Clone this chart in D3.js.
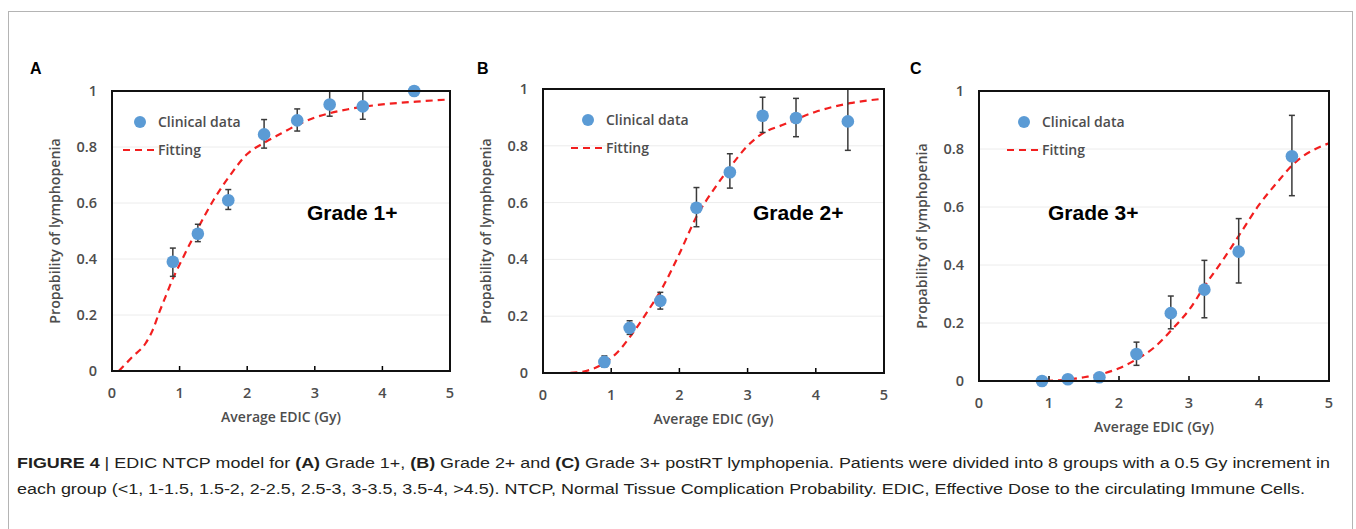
<!DOCTYPE html>
<html lang="en">
  <head>
    <meta charset="utf-8">
    <title>EDIC NTCP model</title>
    <script src="https://d3js.org/d3.v7.min.js"></script>
    <style>
      body { margin: 0; background: #fff; }
      text { font-family: "Open Sans", "Liberation Sans", sans-serif; }
    </style>
  </head>
  <body>
    <div id="figure"></div>
    <script type="text/javascript">
      // clinical groups (average EDIC per group, Gy)
      const doses = [0.9, 1.27, 1.72, 2.25, 2.74, 3.22, 3.71, 4.47];

      const probA = [0.39, 0.49, 0.61, 0.845, 0.895, 0.952, 0.945, 1.0];
      const lowA  = [0.338, 0.462, 0.577, 0.796, 0.857, 0.91, 0.899, 1.0];
      const highA = [0.439, 0.524, 0.648, 0.898, 0.936, 1.0, 1.0, 1.0];

      const probB = [0.039, 0.159, 0.254, 0.582, 0.707, 0.906, 0.898, 0.886];
      const lowB  = [0.021, 0.136, 0.225, 0.515, 0.651, 0.847, 0.832, 0.784];
      const highB = [0.06, 0.184, 0.284, 0.653, 0.772, 0.971, 0.967, 1.0];

      const probC = [0.0, 0.006, 0.013, 0.093, 0.234, 0.315, 0.446, 0.775];
      const lowC  = [0.0, 0.006, 0.013, 0.054, 0.18, 0.218, 0.338, 0.639];
      const highC = [0.0, 0.006, 0.013, 0.134, 0.293, 0.416, 0.56, 0.916];

      // fitted NTCP curves
      const fitDoseA = [0.1, 0.3, 0.5, 0.6, 0.7, 0.8, 0.9, 1.0, 1.25, 1.5, 1.75, 2.0, 2.25, 2.5, 2.75, 3.0, 3.5, 4.0, 4.5, 5.0];
      const fitProbA = [0.0, 0.05, 0.1, 0.145, 0.21, 0.27, 0.33, 0.38, 0.5, 0.61, 0.7, 0.775, 0.815, 0.848, 0.88, 0.905, 0.935, 0.952, 0.962, 0.97];

      const fitDoseB = [0.05, 0.3, 0.5, 0.7, 0.9, 1.1, 1.3, 1.5, 1.75, 2.0, 2.25, 2.5, 2.75, 3.0, 3.25, 3.5, 4.0, 4.5, 5.0];
      const fitProbB = [0.0, 0.0, 0.002, 0.012, 0.035, 0.075, 0.135, 0.205, 0.3, 0.42, 0.55, 0.645, 0.727, 0.8, 0.848, 0.872, 0.92, 0.95, 0.966];

      const fitDoseC = [0.1, 0.8, 1.2, 1.5, 1.75, 2.0, 2.25, 2.5, 2.75, 3.0, 3.25, 3.5, 3.75, 4.0, 4.25, 4.5, 5.0];
      const fitProbC = [0.0, 0.0, 0.003, 0.013, 0.024, 0.044, 0.075, 0.115, 0.176, 0.245, 0.337, 0.423, 0.515, 0.607, 0.682, 0.75, 0.82];

      const xTicks = [0, 1, 2, 3, 4, 5];
      const yTicks = [0, 0.2, 0.4, 0.6, 0.8, 1];
      const yTickLabels = ["0", "0.2", "0.4", "0.6", "0.8", "1"];

      const panels = [
          {label: "A", grade: "Grade 1+", prob: probA, low: lowA, high: highA, fitX: fitDoseA, fitY: fitProbA,
           left: 112, right: 450, top: 91, bottom: 371, gradeX: 307, legendShift: 11},
          {label: "B", grade: "Grade 2+", prob: probB, low: lowB, high: highB, fitX: fitDoseB, fitY: fitProbB,
           left: 543, right: 884, top: 89, bottom: 373, gradeX: 753, legendShift: 28},
          {label: "C", grade: "Grade 3+", prob: probC, low: lowC, high: highC, fitX: fitDoseC, fitY: fitProbC,
           left: 979, right: 1329, top: 91, bottom: 381, gradeX: 1048, legendShift: 28}
      ];
      const labelX = [30, 477, 910];

      const svgWidth = 1356, svgHeight = 529;
      const svg = d3.select("#figure")
          .append("svg")
          .attr("width", svgWidth)
          .attr("height", svgHeight);

      // outer figure frame
      svg.append("rect")
          .attr("x", 8.5)
          .attr("y", 11.5)
          .attr("width", 1344)
          .attr("height", 540)
          .attr("fill", "none")
          .attr("stroke", "#b4b4b4")
          .attr("stroke-width", 1);

      const axisGray = "#4d4d4d";

      panels.forEach(function(p, k) {
          let x = d3.scaleLinear().domain([0, 5]).range([p.left, p.right]);
          let y = d3.scaleLinear().domain([0, 1]).range([p.bottom, p.top]);
          let g = svg.append("g").attr("class", "panel" + p.label);

          // panel letter
          g.append("text")
              .attr("x", labelX[k])
              .attr("y", 68)
              .attr("dy", "0.35em")
              .style("font-family", "Liberation Sans, Arial, sans-serif")
              .style("font-weight", "bold")
              .style("font-size", "16px")
              .attr("fill", "#000")
              .text(p.label);

          // gridlines
          g.selectAll("line.grid")
              .data(yTicks.slice(1, 5))
              .join("line")
              .attr("class", "grid")
              .attr("x1", p.left)
              .attr("x2", p.right)
              .attr("y1", d => y(d))
              .attr("y2", d => y(d))
              .attr("stroke", "#ececec")
              .attr("stroke-width", 1);

          // x tick marks (inside, bottom)
          g.selectAll("line.xtick")
              .data(xTicks.slice(1, 5))
              .join("line")
              .attr("class", "xtick")
              .attr("x1", d => x(d))
              .attr("x2", d => x(d))
              .attr("y1", p.bottom)
              .attr("y2", p.bottom - 5)
              .attr("stroke", "#000")
              .attr("stroke-width", 1.5);

          // tick labels
          g.selectAll("text.xlab")
              .data(xTicks)
              .join("text")
              .attr("class", "xlab")
              .attr("x", d => x(d))
              .attr("y", p.bottom + 22)
              .attr("dy", "0.35em")
              .attr("text-anchor", "middle")
              .style("font-size", "14.5px")
              .style("font-weight", 600)
              .attr("fill", axisGray)
              .text(d => d);

          g.selectAll("text.ylab")
              .data(yTicks)
              .join("text")
              .attr("class", "ylab")
              .attr("x", p.left - 15)
              .attr("y", d => y(d))
              .attr("dy", "0.35em")
              .attr("text-anchor", "end")
              .style("font-size", "14.5px")
              .style("font-weight", 600)
              .attr("fill", axisGray)
              .text((d, i) => yTickLabels[i]);

          // axis titles
          g.append("text")
              .attr("x", (p.left + p.right) / 2)
              .attr("y", p.bottom + 46)
              .attr("dy", "0.35em")
              .attr("text-anchor", "middle")
              .style("font-size", "14px")
              .style("font-weight", 600)
              .attr("fill", axisGray)
              .text("Average EDIC (Gy)");

          g.append("text")
              .attr("transform", "translate(" + (p.left - 57) + "," + ((p.top + p.bottom) / 2) + ") rotate(-90)")
              .attr("dy", "0.35em")
              .attr("text-anchor", "middle")
              .style("font-size", "14.2px")
              .style("font-weight", 600)
              .attr("fill", axisGray)
              .text("Propability of lymphopenia");

          // fitted curve
          let fit = p.fitX.map((d, i) => [d, p.fitY[i]]);
          g.append("path")
              .datum(fit)
              .attr("d", d3.line().x(d => x(d[0])).y(d => y(d[1])).curve(d3.curveMonotoneX))
              .attr("fill", "none")
              .attr("stroke", "#f21f1f")
              .attr("stroke-width", 2.2)
              .attr("stroke-dasharray", "7,5");

          // error bars
          let pts = doses.map((d, i) => ({x: d, y: p.prob[i], lo: p.low[i], hi: p.high[i]}));
          let bars = g.selectAll("g.err")
              .data(pts.filter(d => d.hi - d.lo > 0.005))
              .join("g")
              .attr("class", "err")
              .attr("stroke", "#3a3a3a")
              .attr("stroke-width", 1.5);
          bars.append("line")
              .attr("x1", d => x(d.x)).attr("x2", d => x(d.x))
              .attr("y1", d => y(d.lo)).attr("y2", d => y(d.hi));
          bars.append("line")
              .attr("x1", d => x(d.x) - 3).attr("x2", d => x(d.x) + 3)
              .attr("y1", d => y(d.lo)).attr("y2", d => y(d.lo));
          bars.append("line")
              .attr("x1", d => x(d.x) - 3).attr("x2", d => x(d.x) + 3)
              .attr("y1", d => y(d.hi)).attr("y2", d => y(d.hi));

          // clinical data points
          g.selectAll("circle.pt")
              .data(pts)
              .join("circle")
              .attr("class", "pt")
              .attr("cx", d => x(d.x))
              .attr("cy", d => y(d.y))
              .attr("r", 6.3)
              .attr("fill", "#5b9bd5");

          // plot frame
          g.append("rect")
              .attr("x", p.left)
              .attr("y", p.top)
              .attr("width", p.right - p.left)
              .attr("height", p.bottom - p.top)
              .attr("fill", "none")
              .attr("stroke", "#111")
              .attr("stroke-width", 2);

          // legend
          let lx = p.left + p.legendShift;
          g.append("circle")
              .attr("cx", lx + 17)
              .attr("cy", p.top + 31)
              .attr("r", 6)
              .attr("fill", "#5b9bd5");
          g.append("text")
              .attr("x", lx + 35)
              .attr("y", p.top + 31)
              .attr("dy", "0.35em")
              .style("font-size", "14px")
              .style("font-weight", 600)
              .attr("fill", axisGray)
              .text("Clinical data");
          g.append("line")
              .attr("x1", lx)
              .attr("x2", lx + 32)
              .attr("y1", p.top + 59)
              .attr("y2", p.top + 59)
              .attr("stroke", "#f21f1f")
              .attr("stroke-width", 2.2)
              .attr("stroke-dasharray", "7,5");
          g.append("text")
              .attr("x", lx + 35)
              .attr("y", p.top + 59)
              .attr("dy", "0.35em")
              .style("font-size", "14px")
              .style("font-weight", 600)
              .attr("fill", axisGray)
              .text("Fitting");

          // grade label
          g.append("text")
              .attr("x", p.gradeX)
              .attr("y", 213)
              .attr("dy", "0.35em")
              .style("font-family", "Liberation Sans, Arial, sans-serif")
              .style("font-weight", "bold")
              .style("font-size", "21px")
              .attr("fill", "#000")
              .text(p.grade);
      });

      // caption
      const captionLines = [
          [["FIGURE 4", true], [" | EDIC NTCP model for ", false], ["(A)", true], [" Grade 1+, ", false], ["(B)", true],
           [" Grade 2+ and ", false], ["(C)", true], [" Grade 3+ postRT lymphopenia. Patients were divided into 8 groups with a 0.5 Gy increment in", false]],
          [["each group (<1, 1-1.5, 1.5-2, 2-2.5, 2.5-3, 3-3.5, 3.5-4, >4.5). NTCP, Normal Tissue Complication Probability. EDIC, Effective Dose to the circulating Immune Cells.", false]]
      ];
      const captionY = [463, 489];
      const captionWidth = [1313, 1288];

      captionLines.forEach(function(parts, i) {
          let t = svg.append("text")
              .attr("x", 17)
              .attr("y", captionY[i])
              .attr("dy", "0.35em")
              .attr("textLength", captionWidth[i])
              .attr("lengthAdjust", "spacingAndGlyphs")
              .style("font-family", "Liberation Sans Narrow, Liberation Sans, Arial, sans-serif")
              .style("font-size", "15.5px")
              .attr("fill", "#231f20");
          parts.forEach(function(s) {
              t.append("tspan")
                  .style("font-weight", s[1] ? "bold" : "normal")
                  .text(s[0]);
          });
      });
    </script>
  </body>
</html>
